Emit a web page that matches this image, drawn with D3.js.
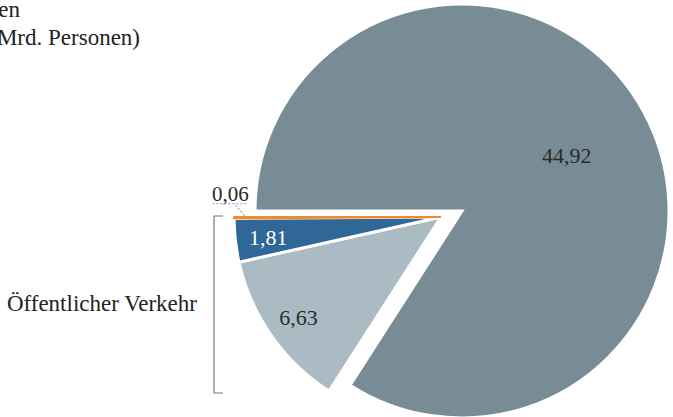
<!DOCTYPE html>
<html><head><meta charset="utf-8">
<script src="https://cdn.jsdelivr.net/npm/d3@7"></script>
<style>
html,body{margin:0;padding:0;background:#fff;}
svg{display:block;font-family:"Liberation Serif","Times New Roman",serif;}
</style></head>
<body>
<svg id="chart" width="673" height="417"></svg>
<script>
const categories = ["Individualverkehr", "Bus/Bahn", "Schiene", "Luftverkehr"];
const values = [44.92, 6.63, 1.81, 0.06];
const labels = ["44,92", "6,63", "1,81", "0,06"];
const colors = ["#788c96", "#aabbc4", "#2f6797", "#f08a2c"];
const exploded = [false, true, true, true];
const titleLines = ["Beförderte Personen", "(Mrd. Personen)"];
const groupLabel = "Öffentlicher Verkehr";

const svg = d3.select("#chart");
const cx = 462, cy = 211, R = 207;
const off = [-21, 6];

const pie = d3.pie().sort(null).value(d => d)
  .startAngle(-Math.PI / 2).endAngle(3 * Math.PI / 2);
const arcs = pie(values);
const arc = d3.arc().innerRadius(0).outerRadius(R);

const g = svg.append("g");
arcs.forEach((a, i) => {
  const dx = exploded[i] ? off[0] : 0, dy = exploded[i] ? off[1] : 0;
  g.append("path")
    .attr("transform", `translate(${cx + dx},${cy + dy})`)
    .attr("d", arc(a))
    .attr("fill", colors[i])
    .attr("stroke", i === 3 ? colors[i] : "#fff")
    .attr("stroke-width", i === 3 ? 1.8 : 3)
    .attr("stroke-linejoin", "miter");
});

// value labels
const lblR = [0.56, 0.84, 0.84, 0];
const lblCol = ["#2a2a2a", "#2a2a2a", "#ffffff", "#2a2a2a"];
arcs.forEach((a, i) => {
  if (i === 3) return;
  const m = (a.startAngle + a.endAngle) / 2;
  const dx = exploded[i] ? off[0] : 0, dy = exploded[i] ? off[1] : 0;
  const x = cx + dx + Math.sin(m) * R * lblR[i];
  const y = cy + dy - Math.cos(m) * R * lblR[i];
  svg.append("text").attr("x", x + (i === 0 ? 3 : 0)).attr("y", y + 8)
    .attr("text-anchor", "middle").attr("font-size", 22)
    .attr("fill", lblCol[i]).text(labels[i]);
});

// small slice label with leader
{
  const a = arcs[3];
  const m = (a.startAngle + a.endAngle) / 2;
  const px = cx + off[0] + Math.sin(m) * R * 0.95;
  const py = cy + off[1] - Math.cos(m) * R * 0.95 - 2;
  const qx = px - 10, qy = py - 12;
  svg.append("line").attr("x1", px).attr("y1", py).attr("x2", qx).attr("y2", qy)
    .attr("stroke", "#777").attr("stroke-width", 1).attr("stroke-dasharray", "2,2");
  svg.append("line").attr("x1", qx - 22).attr("y1", qy).attr("x2", qx + 14).attr("y2", qy)
    .attr("stroke", "#999").attr("stroke-width", 1).attr("stroke-dasharray", "2,2");
  svg.append("text").attr("x", qx - 4).attr("y", qy - 3)
    .attr("text-anchor", "middle").attr("font-size", 21)
    .attr("fill", "#2a2a2a").text(labels[3]);
}

// bracket for public transport
const bx = 214, by1 = 216, by2 = 393;
svg.append("path")
  .attr("d", `M${bx + 9},${by1}H${bx}V${by2}H${bx + 9}`)
  .attr("fill", "none").attr("stroke", "#777").attr("stroke-width", 1.2);
svg.append("text").attr("x", 197).attr("y", 311)
  .attr("text-anchor", "end").attr("font-size", 23).attr("fill", "#222")
  .text(groupLabel);

// title (partially clipped at left, as in the reference)
svg.append("text").attr("x", 20).attr("y", 17)
  .attr("text-anchor", "end").attr("font-size", 23).attr("fill", "#222")
  .text(titleLines[0]);
svg.append("text").attr("x", 140).attr("y", 45)
  .attr("text-anchor", "end").attr("font-size", 23).attr("fill", "#222")
  .text(titleLines[1]);
</script>
</body></html>
